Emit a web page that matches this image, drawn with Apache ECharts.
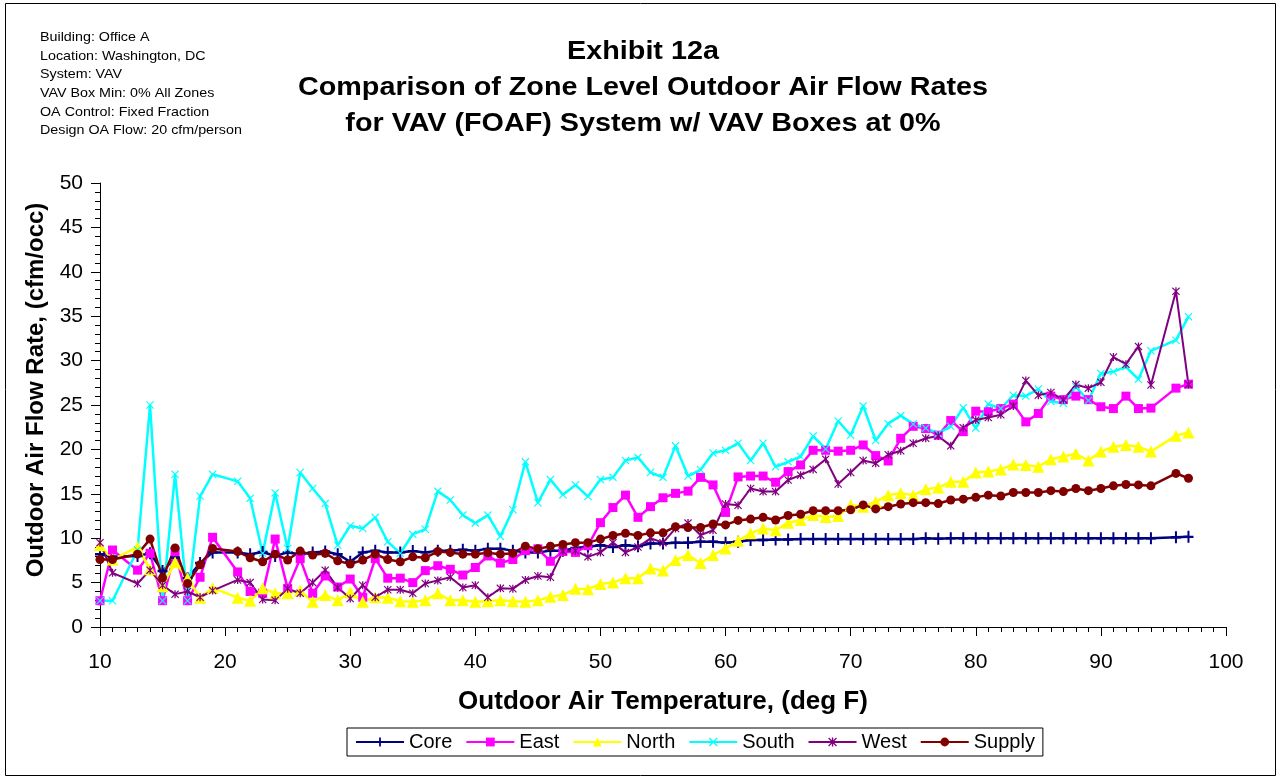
<!DOCTYPE html>
<html>
<head>
<meta charset="utf-8">
<script src="https://cdn.jsdelivr.net/npm/echarts@6/dist/echarts.min.js"></script>
<style>
  html, body { margin: 0; padding: 0; background: #fff; }
  #chart { width: 1277px; height: 778px; }
</style>
</head>
<body>
<div id="chart"></div>
<script>
// outdoor air temperature (deg F) - 12, 20 and 95 have no data
const temps = [10, 11, 13, 14, 15, 16, 17, 18, 19,
  21, 22, 23, 24, 25, 26, 27, 28, 29, 30,
  31, 32, 33, 34, 35, 36, 37, 38, 39, 40,
  41, 42, 43, 44, 45, 46, 47, 48, 49, 50,
  51, 52, 53, 54, 55, 56, 57, 58, 59, 60,
  61, 62, 63, 64, 65, 66, 67, 68, 69, 70,
  71, 72, 73, 74, 75, 76, 77, 78, 79, 80,
  81, 82, 83, 84, 85, 86, 87, 88, 89, 90,
  91, 92, 93, 94, 96, 97]

const core = [8.2, 7.9, 8.0, 8.3, 6.3, 7.8, 5.5, 7.2, 8.4,
  8.4, 8.2, 8.45, 8.0, 8.4, 8.2, 8.4, 8.5, 8.2, 7.35,
  8.4, 8.6, 8.4, 8.4, 8.55, 8.4, 8.6, 8.6, 8.7, 8.6,
  8.8, 8.8, 8.6, 8.4, 8.4, 8.6, 8.6, 8.9, 9.05, 9.2,
  9.0, 9.2, 9.1, 9.4, 9.4, 9.5, 9.5, 9.6, 9.6, 9.5,
  9.6, 9.8, 9.8, 9.85, 9.85, 9.9, 9.9, 9.9, 9.9, 9.9,
  9.9, 9.9, 9.9, 9.9, 9.9, 10.0, 9.95, 10.0, 10.0, 10.0,
  10.0, 10.0, 10.0, 10.0, 10.0, 10.0, 10.0, 10.0, 10.0, 10.0,
  10.0, 10.0, 10.0, 10.0, 10.1, 10.15]

const east = [2.96, 8.67, 6.4, 8.3, 2.96, 8.5, 2.96, 5.6, 10.1,
  6.2, 4.0, 3.8, 9.9, 4.35, 7.7, 3.8, 5.75, 4.5, 5.4,
  3.35, 7.7, 5.5, 5.5, 5.0, 6.35, 6.9, 6.5, 5.85, 6.7,
  8.0, 7.2, 7.6, 8.6, 8.8, 7.4, 8.5, 8.4, 9.15, 11.75,
  13.45, 14.85, 12.35, 13.55, 14.55, 15.05, 15.3, 16.85, 16.0, 12.9,
  16.9, 17.0, 17.0, 16.3, 17.5, 18.25, 19.9, 19.9, 19.8, 19.9,
  20.5, 19.3, 18.7, 21.25, 22.6, 22.35, 21.6, 23.25, 22.0, 24.3,
  24.25, 24.6, 25.1, 23.1, 24.05, 26.0, 25.6, 26.0, 25.6, 24.8,
  24.6, 26.0, 24.6, 24.65, 26.9, 27.35]

const north = [9.2, 7.6, 9.0, 6.5, 4.6, 7.3, 5.5, 3.3, 4.4,
  3.3, 2.95, 4.35, 3.8, 3.8, 4.1, 2.85, 3.6, 3.0, 3.9,
  2.85, 3.35, 3.3, 2.9, 2.85, 3.0, 3.8, 3.0, 3.0, 2.85,
  2.9, 3.0, 2.9, 2.85, 3.0, 3.4, 3.6, 4.3, 4.25, 4.85,
  5.0, 5.5, 5.5, 6.6, 6.35, 7.55, 8.1, 7.2, 8.1, 8.85,
  9.7, 10.55, 11.1, 10.9, 11.75, 12.05, 12.6, 12.4, 12.5, 13.75,
  13.55, 14.1, 14.85, 15.05, 14.85, 15.5, 15.7, 16.35, 16.35, 17.4,
  17.5, 17.75, 18.3, 18.25, 18.05, 18.9, 19.2, 19.5, 18.75, 19.75,
  20.3, 20.5, 20.3, 19.75, 21.55, 21.9]

const south = [2.96, 2.96, 8.67, 25.0, 2.96, 17.2, 2.96, 14.75, 17.2,
  16.4, 14.5, 8.3, 15.1, 8.85, 17.4, 15.6, 13.9, 9.2, 11.4,
  11.1, 12.35, 9.6, 8.3, 10.45, 11.0, 15.3, 14.3, 12.6, 11.7,
  12.6, 10.2, 13.2, 18.6, 14.0, 16.6, 14.9, 16.0, 14.7, 16.6,
  16.85, 18.75, 19.1, 17.4, 16.85, 20.4, 17.0, 17.7, 19.6, 19.9,
  20.7, 18.75, 20.7, 18.05, 18.6, 19.2, 21.5, 20.05, 23.2, 21.6,
  24.9, 21.0, 22.9, 23.8, 22.85, 22.4, 21.8, 22.6, 24.7, 22.4,
  25.1, 24.6, 26.1, 26.0, 26.8, 25.4, 25.2, 27.05, 25.5, 28.55,
  28.75, 29.3, 27.9, 31.1, 32.3, 34.95]

const west = [9.5, 6.1, 4.9, 6.4, 4.7, 3.7, 4.0, 3.35, 4.1,
  5.3, 5.0, 3.1, 3.0, 4.3, 3.8, 5.0, 6.4, 4.45, 3.2,
  4.7, 3.35, 4.2, 4.2, 3.8, 4.9, 5.25, 5.6, 4.45, 4.7,
  3.35, 4.35, 4.3, 5.3, 5.75, 5.6, 8.55, 8.6, 7.9, 8.4,
  9.5, 8.4, 9.0, 10.0, 9.5, 11.1, 11.7, 10.35, 10.9, 13.85,
  13.7, 15.6, 15.25, 15.25, 16.55, 17.1, 17.75, 18.9, 16.1, 17.4,
  18.75, 18.45, 19.4, 19.85, 20.7, 21.25, 21.5, 20.4, 22.45, 23.3,
  23.6, 23.9, 24.9, 27.75, 26.1, 26.4, 25.6, 27.3, 26.9, 27.55,
  30.4, 29.6, 31.6, 27.25, 37.8, 27.3]

const supply = [7.6, 7.6, 8.2, 9.9, 5.55, 8.9, 4.9, 7.0, 8.85,
  8.5, 7.8, 7.35, 8.2, 7.55, 8.55, 8.1, 8.3, 7.45, 7.1,
  7.55, 8.2, 7.6, 7.35, 7.9, 7.8, 8.5, 8.4, 8.2, 8.2,
  8.35, 8.2, 8.3, 9.1, 8.8, 9.1, 9.3, 9.5, 9.5, 9.9,
  10.3, 10.55, 10.3, 10.6, 10.6, 11.3, 11.2, 11.2, 11.6, 11.5,
  12.0, 12.15, 12.35, 12.05, 12.55, 12.7, 13.1, 13.1, 13.1, 13.2,
  13.75, 13.3, 13.55, 13.85, 14.0, 14.0, 13.9, 14.3, 14.4, 14.6,
  14.85, 14.75, 15.15, 15.15, 15.15, 15.35, 15.25, 15.6, 15.35, 15.6,
  15.9, 16.05, 16.0, 15.9, 17.3, 16.75]

const infoLines = [
  'Building: Office A',
  'Location: Washington, DC',
  'System: VAV',
  'VAV Box Min: 0% All Zones',
  'OA Control: Fixed Fraction',
  'Design OA Flow: 20 cfm/person'
]
const titleLines = [
  'Exhibit 12a',
  'Comparison of Zone Level Outdoor Air Flow Rates',
  'for VAV (FOAF) System w/ VAV Boxes at 0%'
]

const FONT = '"Liberation Sans", Arial, sans-serif'

// marker shapes (filled paths)
const plusPath = 'path://M4,0 L6,0 L6,10 L4,10 Z M0,4 L10,4 L10,6 L0,6 Z'
const crossPath = 'path://M0,1 L1,0 L5,4 L9,0 L10,1 L6,5 L10,9 L9,10 L5,6 L1,10 L0,9 L4,5 Z'
const starPath = 'path://M0,1 L1,0 L5,4 L9,0 L10,1 L6,5 L10,9 L9,10 L5,6 L1,10 L0,9 L4,5 Z M4.2,0 L5.8,0 L5.8,10 L4.2,10 Z'

const zones = [
  { name: 'Core', values: core, color: '#000080', symbol: plusPath, size: [10, 12], width: 2.5 },
  { name: 'East', values: east, color: '#FF00FF', symbol: 'rect', size: 9, width: 2.5 },
  { name: 'North', values: north, color: '#FFFF00', symbol: 'triangle', size: 12, width: 2.5 },
  { name: 'South', values: south, color: '#00FFFF', symbol: crossPath, size: 8, width: 2.5 },
  { name: 'West', values: west, color: '#800080', symbol: starPath, size: 8, width: 2 },
  { name: 'Supply', values: supply, color: '#800000', symbol: 'circle', size: 9, width: 2.5 }
]

// title lines, slightly widened like the original
const titleGraphics = titleLines.map((line, i) => ({
  type: 'text',
  x: 643,
  y: 52 + i * 36,
  scaleX: 1.15,
  silent: true,
  style: {
    text: line,
    font: 'bold 25px ' + FONT,
    textAlign: 'center',
    textVerticalAlign: 'middle',
    fill: '#000'
  }
}))

const chart = echarts.init(document.getElementById('chart'))

chart.setOption({
  animation: false,
  backgroundColor: '#fff',
  textStyle: { fontFamily: FONT },
  graphic: [
    {
      type: 'rect',
      shape: { x: 5.5, y: 3.5, width: 1270, height: 772 },
      style: { fill: 'none', stroke: '#000', lineWidth: 1 },
      silent: true
    },
    {
      type: 'text',
      x: 40,
      y: 28,
      scaleX: 1.1,
      silent: true,
      style: {
        text: infoLines.join('\n'),
        font: '13px ' + FONT,
        lineHeight: 18.7,
        textVerticalAlign: 'top',
        fill: '#000'
      }
    },
    ...titleGraphics
  ],
  legend: {
    left: 347,
    top: 728,
    padding: [4, 8, 4, 8],
    borderColor: '#000',
    borderWidth: 1,
    itemWidth: 48,
    itemHeight: 11,
    itemGap: 13,
    textStyle: { fontFamily: FONT, fontSize: 20, color: '#000' },
    data: zones.map(z => z.name)
  },
  grid: { left: 100, right: 51, top: 183, bottom: 151, containLabel: false },
  xAxis: {
    type: 'value',
    min: 10,
    max: 100,
    interval: 10,
    name: 'Outdoor Air Temperature, (deg F)',
    nameLocation: 'middle',
    nameGap: 62,
    nameTextStyle: { fontFamily: FONT, fontSize: 26, fontWeight: 'bold', color: '#000' },
    axisLine: { lineStyle: { color: '#000', width: 1 } },
    axisTick: { length: 9, lineStyle: { color: '#000' } },
    minorTick: { show: true, splitNumber: 10, length: 5, lineStyle: { color: '#000' } },
    axisLabel: { margin: 25, fontFamily: FONT, fontSize: 21, color: '#000' },
    splitLine: { show: false }
  },
  yAxis: {
    type: 'value',
    min: 0,
    max: 50,
    interval: 5,
    name: 'Outdoor Air Flow Rate, (cfm/occ)',
    nameLocation: 'middle',
    nameGap: 48,
    nameTextStyle: { fontFamily: FONT, fontSize: 24, fontWeight: 'bold', color: '#000', padding: [0, 0, 0, 30] },
    axisLine: { show: true, lineStyle: { color: '#000', width: 1 } },
    axisTick: { show: true, length: 9, lineStyle: { color: '#000' } },
    minorTick: { show: true, splitNumber: 5, length: 5, lineStyle: { color: '#000' } },
    axisLabel: { margin: 17, fontFamily: FONT, fontSize: 21, color: '#000' },
    splitLine: { show: false }
  },
  series: zones.map(z => ({
    name: z.name,
    type: 'line',
    data: temps.map((t, i) => [t, z.values[i]]),
    symbol: z.symbol,
    symbolSize: z.size,
    showAllSymbol: true,
    color: z.color,
    itemStyle: { color: z.color },
    lineStyle: { color: z.color, width: z.width },
    emphasis: { disabled: true }
  }))
})
</script>
</body>
</html>
